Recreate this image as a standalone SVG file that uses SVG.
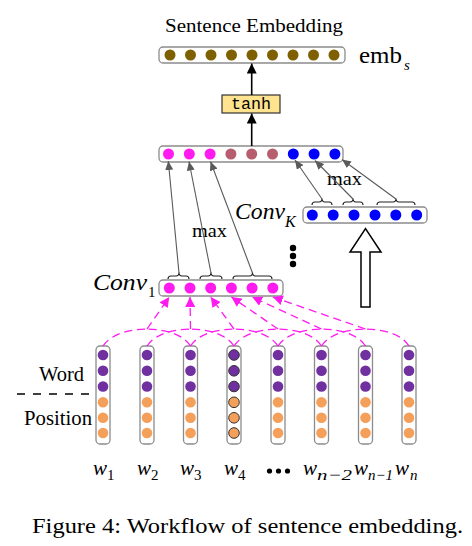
<svg xmlns="http://www.w3.org/2000/svg" width="472" height="546" viewBox="0 0 472 546">
<style>
.bar{fill:#fff;stroke:#8c8c8c;stroke-width:1.3}
.col{fill:#fff;stroke:#8c8c8c;stroke-width:1.3}
.t{font-family:"Liberation Serif","Times New Roman",serif;fill:#000}
.it{font-family:"Liberation Serif","Times New Roman",serif;font-style:italic;fill:#000}
.mono{font-family:"Liberation Mono","DejaVu Sans Mono",monospace;fill:#000}
.brown{fill:#7f6000}
.mag{fill:#ff1aef}
.rose{fill:#b65d6e}
.blue{fill:#0000ff}
.pur{fill:#7030a0}
.org{fill:#f5a05a}
.k{stroke:#333;stroke-width:1}
.brace{fill:none;stroke:#222;stroke-width:1.1}
.ga{stroke:#5a5a5a;stroke-width:1.1;fill:none;marker-end:url(#ag)}
.ka{stroke:#000;stroke-width:1.6;fill:none;marker-end:url(#ak)}
.md{stroke:#ff1aef;stroke-width:1.3;fill:none;stroke-dasharray:8 5}
.ma{stroke:#ff1aef;stroke-width:1.3;fill:none;stroke-dasharray:8 5;marker-end:url(#am)}
</style>
<defs>
<marker id="ag" markerWidth="10" markerHeight="8" refX="9" refY="4" orient="auto" markerUnits="userSpaceOnUse"><path d="M0,0 L9,4 L0,8 z" fill="#5a5a5a"/></marker>
<marker id="ak" markerWidth="11" markerHeight="10" refX="10" refY="5" orient="auto" markerUnits="userSpaceOnUse"><path d="M0,0 L10,5 L0,10 z" fill="#000"/></marker>
<marker id="am" markerWidth="11" markerHeight="10" refX="10" refY="5" orient="auto" markerUnits="userSpaceOnUse"><path d="M0,0 L10,5 L0,10 z" fill="#ff1aef"/></marker>
</defs>
<rect width="472" height="546" fill="#fff"/>

<g id="emb">
<text class="t" x="165" y="32" font-size="18" textLength="178" lengthAdjust="spacingAndGlyphs">Sentence Embedding</text>
<rect class="bar" x="159" y="47" width="186" height="16" rx="4"/>
<g class="brown">
<circle cx="170" cy="55" r="5.5"/><circle cx="190.5" cy="55" r="5.5"/><circle cx="211" cy="55" r="5.5"/><circle cx="231.5" cy="55" r="5.5"/><circle cx="252" cy="55" r="5.5"/><circle cx="272.5" cy="55" r="5.5"/><circle cx="293" cy="55" r="5.5"/><circle cx="313.5" cy="55" r="5.5"/><circle cx="334" cy="55" r="5.5"/>
</g>
<text class="t" x="359" y="63" font-size="23" textLength="43" lengthAdjust="spacingAndGlyphs">emb</text>
<text class="it" x="404" y="70" font-size="15">s</text>
</g>

<g id="tanh">
<rect x="222" y="95" width="58" height="18" fill="#ffe38f" stroke="#333" stroke-width="1.2"/>
<text class="mono" x="251" y="108.5" font-size="16" text-anchor="middle" textLength="40" lengthAdjust="spacingAndGlyphs">tanh</text>
</g>

<g id="concat">
<rect class="bar" x="159" y="146" width="184" height="16" rx="4"/>
<circle class="mag" cx="168.5" cy="154" r="5.5"/><circle class="mag" cx="189.3" cy="154" r="5.5"/><circle class="mag" cx="210.1" cy="154" r="5.5"/>
<circle class="rose" cx="230.9" cy="154" r="5.5"/><circle class="rose" cx="251.7" cy="154" r="5.5"/><circle class="rose" cx="272.5" cy="154" r="5.5"/>
<circle class="blue" cx="293.3" cy="154" r="5.5"/><circle class="blue" cx="314.1" cy="154" r="5.5"/><circle class="blue" cx="334.9" cy="154" r="5.5"/>
</g>

<g id="convK">
<rect class="bar" x="303" y="207" width="124" height="16" rx="4"/>
<g class="blue">
<circle cx="312.3" cy="215" r="5.5"/><circle cx="333.2" cy="215" r="5.5"/><circle cx="354" cy="215" r="5.5"/><circle cx="375" cy="215" r="5.5"/><circle cx="395.8" cy="215" r="5.5"/><circle cx="416.7" cy="215" r="5.5"/>
</g>
<text class="it" x="235" y="219" font-size="23" textLength="50" lengthAdjust="spacingAndGlyphs">Conv</text>
<text class="it" x="285" y="227" font-size="16">K</text>
<path class="brace" d="M312,205 Q312,202 315,202 L319,202 Q322,202 322,198.5 Q322,202 325,202 L329,202 Q332,202 332,205"/>
<path class="brace" d="M343,205 Q343,202 346,202 L350,202 Q353,202 353,198.5 Q353,202 356,202 L360,202 Q363,202 363,205"/>
<path class="brace" d="M377,205 Q377,202 380,202 L393,202 Q396,202 396,198.5 Q396,202 399,202 L412,202 Q415,202 415,205"/>
</g>

<g id="conv1">
<rect class="bar" x="159" y="280" width="124" height="16" rx="4"/>
<g class="mag">
<circle cx="169.3" cy="288" r="5.5"/><circle cx="190" cy="288" r="5.5"/><circle cx="210.7" cy="288" r="5.5"/><circle cx="231.4" cy="288" r="5.5"/><circle cx="252.1" cy="288" r="5.5"/><circle cx="272.8" cy="288" r="5.5"/>
</g>
<text class="it" x="93" y="290" font-size="23" textLength="54" lengthAdjust="spacingAndGlyphs">Conv</text>
<text class="t" x="148" y="297" font-size="15">1</text>
<path class="brace" d="M168,279 Q168,276 171,276 L176,276 Q179,276 179,272.5 Q179,276 182,276 L186,276 Q189,276 189,279"/>
<path class="brace" d="M200,279 Q200,276 203,276 L208,276 Q211,276 211,272.5 Q211,276 214,276 L219,276 Q222,276 222,279"/>
<path class="brace" d="M233,279 Q233,276 236,276 L249.5,276 Q252.5,276 252.5,272.5 Q252.5,276 255.5,276 L269,276 Q272,276 272,279"/>
</g>

<g id="dots">
<circle cx="293" cy="248" r="3.2"/><circle cx="293" cy="256" r="3.2"/><circle cx="293" cy="264" r="3.2"/>
</g>

<g id="bigarrow">
<polygon points="361,307 361,252 350,252 365.5,228.5 381,252 370,252 370,307" fill="#fff" stroke="#000" stroke-width="1.5" stroke-linejoin="miter"/>
</g>

<g id="labels">
<text class="t" x="192" y="237" font-size="19" textLength="35" lengthAdjust="spacingAndGlyphs">max</text>
<text class="t" x="327" y="185" font-size="19" textLength="35" lengthAdjust="spacingAndGlyphs">max</text>
<text class="t" x="39" y="381" font-size="20" textLength="45" lengthAdjust="spacingAndGlyphs">Word</text>
<text class="t" x="24" y="425" font-size="20" textLength="68" lengthAdjust="spacingAndGlyphs">Position</text>
<line x1="17" y1="394" x2="96" y2="394" stroke="#000" stroke-width="1.3" stroke-dasharray="8 8"/>
<line x1="96" y1="394" x2="110" y2="394" stroke="#000" stroke-width="1.3"/>
</g>

<g id="words">
<g id="word1"><rect class="col" x="96" y="346" width="14" height="98" rx="4"/><circle class="pur" cx="103" cy="355" r="5.3"/><circle class="pur" cx="103" cy="370.8" r="5.3"/><circle class="pur" cx="103" cy="386.5" r="5.3"/><circle class="org" cx="103" cy="402.3" r="5.3"/><circle class="org" cx="103" cy="417.8" r="5.3"/><circle class="org" cx="103" cy="433" r="5.3"/></g>
<g id="word2"><rect class="col" x="140" y="346" width="14" height="98" rx="4"/><circle class="pur" cx="147" cy="355" r="5.3"/><circle class="pur" cx="147" cy="370.8" r="5.3"/><circle class="pur" cx="147" cy="386.5" r="5.3"/><circle class="org" cx="147" cy="402.3" r="5.3"/><circle class="org" cx="147" cy="417.8" r="5.3"/><circle class="org" cx="147" cy="433" r="5.3"/></g>
<g id="word3"><rect class="col" x="183.5" y="346" width="14" height="98" rx="4"/><circle class="pur" cx="190.5" cy="355" r="5.3"/><circle class="pur" cx="190.5" cy="370.8" r="5.3"/><circle class="pur" cx="190.5" cy="386.5" r="5.3"/><circle class="org" cx="190.5" cy="402.3" r="5.3"/><circle class="org" cx="190.5" cy="417.8" r="5.3"/><circle class="org" cx="190.5" cy="433" r="5.3"/></g>
<g id="word4"><rect class="col" x="227" y="346" width="14" height="98" rx="4"/><circle class="pur k" cx="234" cy="355" r="5.3"/><circle class="pur k" cx="234" cy="370.8" r="5.3"/><circle class="pur k" cx="234" cy="386.5" r="5.3"/><circle class="org k" cx="234" cy="402.3" r="5.3"/><circle class="org k" cx="234" cy="417.8" r="5.3"/><circle class="org k" cx="234" cy="433" r="5.3"/></g>
<g id="word5"><rect class="col" x="271" y="346" width="14" height="98" rx="4"/><circle class="pur" cx="278" cy="355" r="5.3"/><circle class="pur" cx="278" cy="370.8" r="5.3"/><circle class="pur" cx="278" cy="386.5" r="5.3"/><circle class="org" cx="278" cy="402.3" r="5.3"/><circle class="org" cx="278" cy="417.8" r="5.3"/><circle class="org" cx="278" cy="433" r="5.3"/></g>
<g id="word6"><rect class="col" x="314.5" y="346" width="14" height="98" rx="4"/><circle class="pur" cx="321.5" cy="355" r="5.3"/><circle class="pur" cx="321.5" cy="370.8" r="5.3"/><circle class="pur" cx="321.5" cy="386.5" r="5.3"/><circle class="org" cx="321.5" cy="402.3" r="5.3"/><circle class="org" cx="321.5" cy="417.8" r="5.3"/><circle class="org" cx="321.5" cy="433" r="5.3"/></g>
<g id="word7"><rect class="col" x="358.5" y="346" width="14" height="98" rx="4"/><circle class="pur" cx="365.5" cy="355" r="5.3"/><circle class="pur" cx="365.5" cy="370.8" r="5.3"/><circle class="pur" cx="365.5" cy="386.5" r="5.3"/><circle class="org" cx="365.5" cy="402.3" r="5.3"/><circle class="org" cx="365.5" cy="417.8" r="5.3"/><circle class="org" cx="365.5" cy="433" r="5.3"/></g>
<g id="word8"><rect class="col" x="402" y="346" width="14" height="98" rx="4"/><circle class="pur" cx="409" cy="355" r="5.3"/><circle class="pur" cx="409" cy="370.8" r="5.3"/><circle class="pur" cx="409" cy="386.5" r="5.3"/><circle class="org" cx="409" cy="402.3" r="5.3"/><circle class="org" cx="409" cy="417.8" r="5.3"/><circle class="org" cx="409" cy="433" r="5.3"/></g>
</g>

<g id="wlabels">
<text class="it" x="93" y="475" font-size="21">w</text><text class="t" x="107" y="480" font-size="15">1</text>
<text class="it" x="137" y="475" font-size="21">w</text><text class="t" x="151" y="480" font-size="15">2</text>
<text class="it" x="180" y="475" font-size="21">w</text><text class="t" x="194" y="480" font-size="15">3</text>
<text class="it" x="224" y="475" font-size="21">w</text><text class="t" x="238" y="480" font-size="15">4</text>
<circle cx="269.5" cy="471" r="2.6"/><circle cx="278.5" cy="471" r="2.6"/><circle cx="287.5" cy="471" r="2.6"/>
<text class="it" x="303" y="475" font-size="21">w</text><text class="it" x="317" y="480" font-size="15" textLength="35" lengthAdjust="spacingAndGlyphs">n−2</text>
<text class="it" x="354" y="475" font-size="21">w</text><text class="it" x="368" y="480" font-size="15" textLength="25" lengthAdjust="spacingAndGlyphs">n−1</text>
<text class="it" x="395" y="475" font-size="21">w</text><text class="it" x="410" y="480" font-size="15">n</text>
</g>

<text class="t" x="32" y="533" font-size="20" textLength="431" lengthAdjust="spacingAndGlyphs">Figure 4: Workflow of sentence embedding.</text>

<g id="connectors">
<line class="ka" x1="251.7" y1="95" x2="251.7" y2="63.5"/>
<line class="ka" x1="251.7" y1="146" x2="251.7" y2="113.5"/>
<line class="ga" x1="179" y1="273" x2="168.3" y2="161"/>
<line class="ga" x1="211" y1="273" x2="189" y2="161.5"/>
<line class="ga" x1="252.5" y1="273" x2="210.5" y2="161.5"/>
<line class="ga" x1="322" y1="199" x2="295" y2="160"/>
<line class="ga" x1="353" y1="199" x2="315" y2="160.5"/>
<line class="ga" x1="396" y1="199" x2="342" y2="159.5"/>

<line class="ma" x1="147" y1="329" x2="169.3" y2="297"/>
<line class="ma" x1="190.5" y1="329" x2="190" y2="297"/>
<line class="ma" x1="234" y1="329" x2="210.7" y2="297"/>
<line class="ma" x1="278" y1="329" x2="231.4" y2="297"/>
<line class="ma" x1="321.5" y1="329" x2="252.1" y2="297"/>
<line class="ma" x1="365.5" y1="329" x2="272.8" y2="297"/>

<path class="md" d="M103,346 Q114,330 147,329"/>
<path class="md" d="M190.5,346 Q180,330 147,329"/>
<path class="md" d="M147,346 Q158,330 190.5,329"/>
<path class="md" d="M234,346 Q223,330 190.5,329"/>
<path class="md" d="M190.5,346 Q201,330 234,329"/>
<path class="md" d="M278,346 Q267,330 234,329"/>
<path class="md" d="M234,346 Q245,330 278,329"/>
<path class="md" d="M321.5,346 Q311,330 278,329"/>
<path class="md" d="M278,346 Q289,330 321.5,329"/>
<path class="md" d="M365.5,346 Q355,330 321.5,329"/>
<path class="md" d="M321.5,346 Q332,330 365.5,329"/>
<path class="md" d="M409,346 Q399,330 365.5,329"/>
</g>
</svg>
